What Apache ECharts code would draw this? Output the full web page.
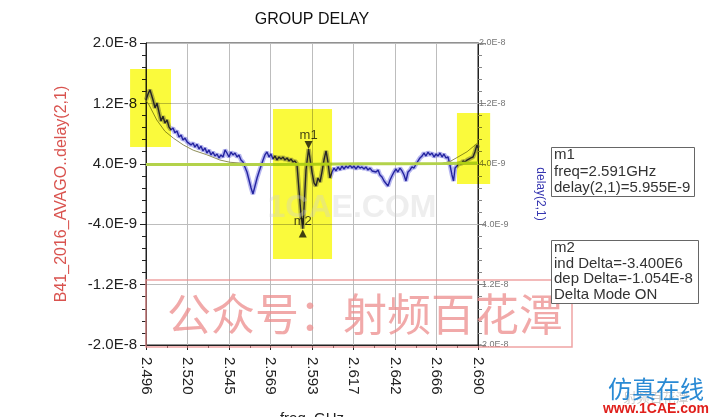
<!DOCTYPE html>
<html><head><meta charset="utf-8">
<script src="https://cdn.jsdelivr.net/npm/echarts@6.0.0/dist/echarts.min.js"></script>
<style>html,body{margin:0;padding:0;background:#fff}#c{width:718px;height:417px}</style>
</head><body><div id="c"></div>
<script>
// ---- axis definition ----
const F0 = 2.496;            // GHz, left end of the sweep
const XSTEP = 24.25;         // MHz between frequency ticks
const xTickLabels = ['2.496','2.520','2.545','2.569','2.593','2.617','2.642','2.666','2.690'];
const yTickLabels = ['-2.0E-8','-1.2E-8','-4.0E-9','4.0E-9','1.2E-8','2.0E-8'];

// ---- measured group delay (GHz, ns) ----
const measFreq = [
2.4960,2.4972,2.4983,2.4992,2.5001,2.5013,2.5024,2.5036,2.5048,2.5059,
2.5071,2.5083,2.5094,2.5106,2.5118,2.5129,2.5141,2.5153,2.5165,2.5176,
2.5188,2.5200,2.5211,2.5223,2.5235,2.5246,2.5258,2.5270,2.5281,2.5293,
2.5305,2.5316,2.5328,2.5340,2.5351,2.5363,2.5375,2.5387,2.5398,2.5410,
2.5422,2.5433,2.5445,2.5457,2.5468,2.5480,2.5492,2.5503,2.5515,2.5527,
2.5538,2.5550,2.5562,2.5574,2.5585,2.5597,2.5609,2.5620,2.5632,2.5644,
2.5655,2.5667,2.5679,2.5690,2.5702,2.5714,2.5725,2.5737,2.5749,2.5761,
2.5772,2.5784,2.5796,2.5807,2.5819,2.5831,2.5842,2.5854,2.5866,2.5876,
2.5886,2.5895,2.5910,2.5918,2.5930,2.5942,2.5953,2.5965,2.5977,2.5988,
2.6000,2.6012,2.6023,2.6035,2.6047,2.6059,2.6070,2.6082,2.6094,2.6105,
2.6117,2.6129,2.6140,2.6152,2.6164,2.6175,2.6187,2.6199,2.6210,2.6222,
2.6234,2.6245,2.6257,2.6269,2.6281,2.6292,2.6304,2.6316,2.6327,2.6339,
2.6351,2.6362,2.6374,2.6386,2.6397,2.6409,2.6421,2.6432,2.6444,2.6456,
2.6468,2.6479,2.6491,2.6503,2.6514,2.6526,2.6538,2.6549,2.6561,2.6573,
2.6584,2.6596,2.6608,2.6619,2.6631,2.6643,2.6655,2.6666,2.6678,2.6690,
2.6701,2.6713,2.6725,2.6736,2.6748,2.6757,2.6766,2.6777,2.6789,2.6801,
2.6812,2.6824,2.6836,2.6847,2.6859,2.6871,2.6882,2.6894,2.6900];
const measDelay = [
12.45,13.25,13.8,14.0,12.45,11.4,12.05,10.85,9.67,10.3,
9.4,9.8,8.9,8.5,8.75,8.1,8.35,7.55,7.8,7.15,
7.4,6.9,7.15,6.5,6.75,6.2,6.6,5.96,6.35,5.7,
6.1,5.43,5.83,5.17,5.56,5.03,5.3,4.77,5.17,4.9,
5.83,5.43,4.9,5.56,5.17,5.43,4.9,5.17,4.5,4.24,
3.58,2.91,1.85,0.8,0.0,1.06,2.12,2.91,3.71,4.5,
5.17,5.56,4.9,5.3,4.64,5.03,4.5,4.9,4.64,4.9,
4.5,4.77,4.37,4.64,4.24,4.37,3.97,0.53,-2.78,-4.585,
-0.79,3.18,5.955,4.77,2.91,1.46,1.06,2.12,1.59,2.91,
4.5,5.7,4.24,2.12,2.91,3.44,3.05,3.58,3.18,3.71,
3.31,3.71,3.44,3.84,3.44,3.71,3.31,3.71,3.44,3.58,
3.31,3.58,3.18,3.44,3.05,3.31,2.91,3.18,2.52,2.25,
1.72,1.46,1.06,1.85,2.38,2.91,3.31,2.91,3.44,3.05,
2.52,1.72,2.91,3.18,3.58,3.44,3.97,3.84,4.77,5.03,
5.43,5.03,5.56,5.17,5.43,4.9,5.3,5.03,5.43,4.9,
5.3,4.77,4.9,3.84,2.52,1.72,3.44,3.71,4.11,3.97,
4.37,4.24,4.5,4.37,4.77,4.9,5.56,6.5,6.1];

// ---- model (thin olive) trace ----
const modelFreq  = [2.4960,2.4973,2.5023,2.5071,2.5120,2.5178,2.5236,2.5315,2.5392,2.5451,2.5568,2.6000,2.6500,2.6690,2.6736,2.6783,2.6836,2.6900];
const modelDelay = [12.4,12.0,9.8,8.3,7.4,6.5,5.8,5.2,4.5,4.2,4.0,3.95,4.0,4.05,4.3,4.9,5.6,6.8];

// ---- reference (thick green) trace ----
const specFreq  = [2.4960,2.5200,2.5450,2.5700,2.5950,2.6200,2.6450,2.6700,2.6900];
const specDelay = [3.92,3.92,3.9,3.9,3.95,4.0,4.0,4.05,4.1];

// ---- markers ----
const markerNames = ['m1','m2'];
const markerFreq  = [2.591, 2.5876];
const markerDelay = [5.955, -4.585];

// ---- highlighted regions (GHz range, ns range) ----
const highlightFreq  = [[2.4867,2.5106],[2.5702,2.6047],[2.6777,2.6971]];
const highlightDelay = [[16.56,6.23],[11.26,-8.6],[10.73,1.32]];

const FONT = '"Liberation Sans", Arial, sans-serif';
const toX = f => (f - F0) * 1000;   // MHz from sweep start
const toY = d => d + 20;            // ns above -2.0E-8
const pairs = (fs, ds) => fs.map((f, i) => [toX(f), toY(ds[i])]);

const chart = echarts.init(document.getElementById('c'));
const yLab = v => yTickLabels[Math.round(v / 8)];

const option = {
  backgroundColor: '#fff',
  animation: false,
  grid: {left: 146, top: 43, width: 332, height: 302, show: true, borderColor: '#222', borderWidth: 1,
         containLabel: false, outerBoundsMode: 'none'},
  xAxis: {
    type: 'value', min: 0, max: 194, interval: XSTEP,
    name: 'freq, GHz', nameLocation: 'middle', nameGap: 66,
    nameTextStyle: {fontSize: 15, color: '#222', fontFamily: FONT},
    axisLine: {show: true, onZero: false, lineStyle: {color: '#222'}},
    axisTick: {show: true, length: 5, lineStyle: {color: '#222'}},
    minorTick: {show: true, splitNumber: 2, length: 3, lineStyle: {color: '#222'}},
    axisLabel: {rotate: -90, fontSize: 15, color: '#222', margin: 12, fontFamily: FONT,
      formatter: v => xTickLabels[Math.round(v / XSTEP)]},
    splitLine: {show: true, lineStyle: {color: '#bdbdbd'}}
  },
  yAxis: [{
    type: 'value', min: 0, max: 40, interval: 8, position: 'left',
    name: 'B41_2016_AVAGO..delay(2,1)', nameLocation: 'middle', nameGap: 76,
    nameTextStyle: {fontSize: 16, color: '#d9534f', fontFamily: FONT},
    axisLine: {show: true, onZero: false, lineStyle: {color: '#222'}},
    axisTick: {show: true, length: 6, lineStyle: {color: '#222'}},
    minorTick: {show: true, splitNumber: 5, length: 4, lineStyle: {color: '#222'}},
    axisLabel: {fontSize: 15, color: '#222', margin: 9, fontFamily: FONT, formatter: yLab},
    splitLine: {show: true, lineStyle: {color: '#bdbdbd'}}
  }, {
    type: 'value', min: 0, max: 40, interval: 8, position: 'right',
    name: 'delay(2,1)', nameLocation: 'middle', nameGap: 56, nameRotate: -90,
    nameTextStyle: {fontSize: 12, color: '#3535b0', fontFamily: FONT},
    axisLine: {show: true, onZero: false, lineStyle: {color: '#222'}},
    axisTick: {show: true, length: 8, lineStyle: {color: '#888'}},
    minorTick: {show: true, splitNumber: 5, length: 4, lineStyle: {color: '#888'}},
    axisLabel: {fontSize: 9, color: '#777', margin: 1, fontFamily: FONT, formatter: yLab},
    splitLine: {show: false}
  }],
  series: [
    {type: 'line', data: pairs(measFreq, measDelay), showSymbol: false, silent: true, z: 2,
     lineStyle: {color: 'rgba(110,110,225,0.5)', width: 4.5}},
    {type: 'line', data: pairs(measFreq, measDelay), showSymbol: false, silent: true, z: 3,
     lineStyle: {color: '#2424a0', width: 1.4}},
    {type: 'line', data: pairs(modelFreq, modelDelay), showSymbol: false, silent: true, z: 4,
     lineStyle: {color: '#8f8f5a', width: 1}},
    {type: 'line', data: pairs(specFreq, specDelay), showSymbol: false, silent: true, z: 5,
     lineStyle: {color: '#b3d24a', width: 3}},
    {type: 'scatter', silent: true, z: 6, symbol: 'triangle', symbolSize: 8,
     itemStyle: {color: '#111'},
     data: markerFreq.map((f, i) => ({
       value: [toX(f), toY(markerDelay[i])],
       symbolRotate: i === 0 ? 180 : 0,
       symbolOffset: i === 0 ? [0, -4] : [0, 5]
     }))},
    {type: 'scatter', silent: true, z: 7, symbol: 'circle', symbolSize: 1,
     itemStyle: {color: 'rgba(0,0,0,0)'},
     data: markerFreq.map((f, i) => ({
       value: [toX(f), toY(markerDelay[i])],
       label: {show: true, position: 'inside', offset: i === 0 ? [0, -14] : [0, -7],
         formatter: markerNames[i], fontSize: 13, color: '#111', fontFamily: FONT}
     }))}
  ]
};
chart.setOption(option);

const rects = highlightFreq.map((fr, i) => {
  const p1 = chart.convertToPixel({gridIndex: 0}, [toX(fr[0]), toY(highlightDelay[i][0])]);
  const p2 = chart.convertToPixel({gridIndex: 0}, [toX(fr[1]), toY(highlightDelay[i][1])]);
  return {type: 'rect', z: 50, silent: true,
    shape: {x: p1[0], y: p1[1], width: p2[0] - p1[0], height: p2[1] - p1[1]},
    style: {fill: '#fafa3c', blend: 'multiply'}};
});

const txt = (x, y, text, font, fill, align, extra) => Object.assign({
  type: 'text', x: x, y: y, z: 60, silent: true,
  style: Object.assign({text: text, font: font, fill: fill, align: align || 'left', verticalAlign: 'middle'}, extra || {})
});

chart.setOption({graphic: [
  txt(312, 20, 'GROUP DELAY', '16px ' + FONT, '#111', 'center'),
  txt(352, 208, '1CAE.COM', 'bold 32px ' + FONT, 'rgba(205,205,205,0.35)', 'center'),
  ...rects,
  {type: 'rect', z: 60, silent: true, shape: {x: 146, y: 280, width: 426, height: 67},
   style: {fill: 'none', stroke: 'rgba(235,140,140,0.8)', lineWidth: 1.5}},
  txt(365, 314, '公众号：射频百花潭', '44px "Noto Sans CJK SC"', 'rgba(236,140,140,0.75)', 'center'),
  {type: 'rect', z: 60, silent: true, shape: {x: 551.5, y: 147.5, width: 143, height: 49},
   style: {fill: '#fff', stroke: '#666', lineWidth: 1}},
  txt(554, 147, 'm1\nfreq=2.591GHz\ndelay(2,1)=5.955E-9', '15px ' + FONT, '#333', 'left',
      {verticalAlign: 'top', lineHeight: 16.5}),
  {type: 'rect', z: 60, silent: true, shape: {x: 551.5, y: 240.5, width: 147, height: 63},
   style: {fill: '#fff', stroke: '#666', lineWidth: 1}},
  txt(554, 240, 'm2\nind Delta=-3.400E6\ndep Delta=-1.054E-8\nDelta Mode ON', '15px ' + FONT, '#333', 'left',
      {verticalAlign: 'top', lineHeight: 15.7}),
  txt(656, 397, '射频百花潭', '13px "Noto Sans CJK SC"', 'rgba(150,150,150,0.5)', 'center'),
  txt(656, 389, '仿真在线', '24px "Noto Sans CJK SC"', '#2a8ad4', 'center'),
  txt(656, 409, 'www.1CAE.com', 'bold 14px ' + FONT, '#e0201c', 'center')
]});
</script>
</body></html>
